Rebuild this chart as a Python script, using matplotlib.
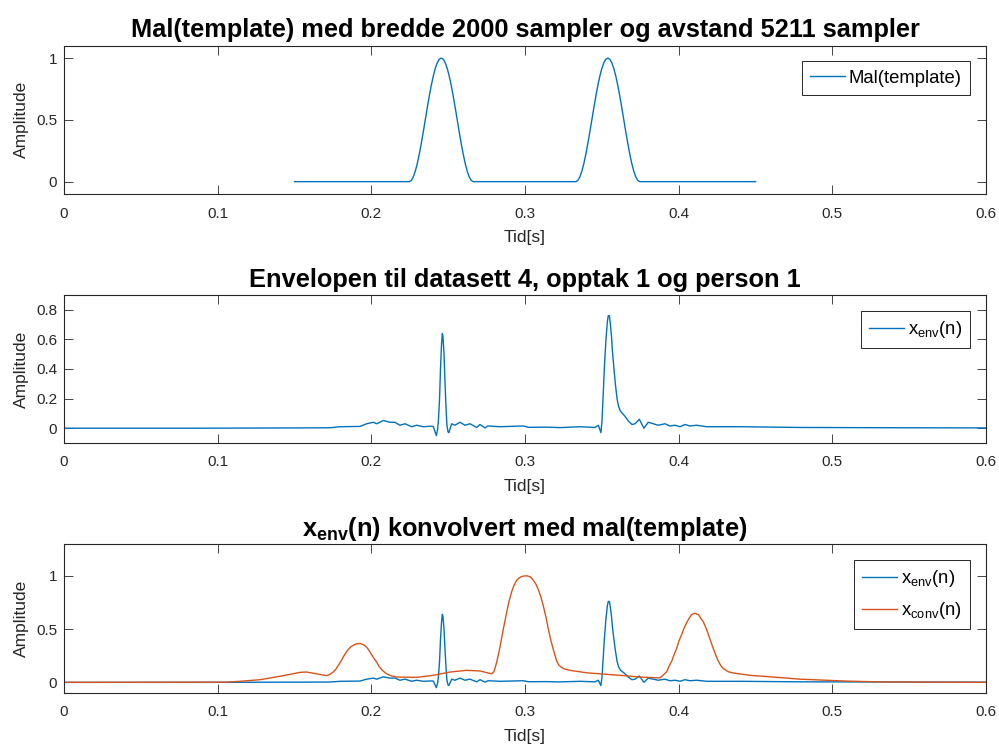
import matplotlib
matplotlib.use("Agg")
import matplotlib.pyplot as plt

plt.rcParams['font.family'] = ['Liberation Sans', 'DejaVu Sans']
plt.rcParams['mathtext.fontset'] = 'custom'
plt.rcParams['mathtext.rm'] = 'Liberation Sans'
plt.rcParams['mathtext.it'] = 'Liberation Sans:italic'
plt.rcParams['mathtext.bf'] = 'Liberation Sans:bold'

# ---------------- data ----------------
tmpl_t = [0.15,
          0.2247, 0.2260, 0.2273, 0.2286, 0.2299, 0.2312, 0.2325, 0.2338, 0.2351, 0.2364, 0.2377,
          0.2390, 0.2403, 0.2416, 0.2429, 0.2442, 0.2455, 0.2468, 0.2481, 0.2494, 0.2507, 0.2520,
          0.2533, 0.2546, 0.2559, 0.2572, 0.2585, 0.2598, 0.2611, 0.2624, 0.2637, 0.2650, 0.2663,
          0.3331, 0.3344, 0.3357, 0.3370, 0.3383, 0.3396, 0.3409, 0.3422, 0.3435, 0.3448, 0.3461,
          0.3474, 0.3487, 0.3500, 0.3513, 0.3526, 0.3539, 0.3552, 0.3565, 0.3578, 0.3591, 0.3604,
          0.3617, 0.3630, 0.3643, 0.3656, 0.3669, 0.3682, 0.3695, 0.3708, 0.3721, 0.3734, 0.3747,
          0.45]
tmpl_y = [0.0,
          0.0, 0.0096, 0.0381, 0.0843, 0.1464, 0.2222, 0.3087, 0.4025, 0.5, 0.5975, 0.6913,
          0.7778, 0.8536, 0.9157, 0.9619, 0.9904, 1.0, 0.9904, 0.9619, 0.9157, 0.8536, 0.7778,
          0.6913, 0.5975, 0.5, 0.4025, 0.3087, 0.2222, 0.1464, 0.0843, 0.0381, 0.0096, 0.0,
          0.0, 0.0096, 0.0381, 0.0843, 0.1464, 0.2222, 0.3087, 0.4025, 0.5, 0.5975, 0.6913,
          0.7778, 0.8536, 0.9157, 0.9619, 0.9904, 1.0, 0.9904, 0.9619, 0.9157, 0.8536, 0.7778,
          0.6913, 0.5975, 0.5, 0.4025, 0.3087, 0.2222, 0.1464, 0.0843, 0.0381, 0.0096, 0.0,
          0.0]

env_t = [0.0, 0.0885, 0.1536, 0.1731, 0.1796, 0.1926, 0.1970, 0.2013, 0.2035, 0.2078,
         0.2121, 0.2154, 0.2186, 0.2219, 0.2263, 0.2295, 0.2338, 0.2382, 0.2403, 0.2423,
         0.2431, 0.2437, 0.2444, 0.2450, 0.2457, 0.2462, 0.2466, 0.2473, 0.2479, 0.2486,
         0.2492, 0.2499, 0.2505, 0.2512, 0.2523, 0.2544, 0.2577, 0.2609, 0.2642, 0.2686,
         0.2707, 0.2740, 0.2759, 0.2837, 0.2989, 0.3021, 0.3141, 0.3228, 0.3358, 0.3455,
         0.3477, 0.3494, 0.3501, 0.3509, 0.3517, 0.3527, 0.3536, 0.3542, 0.3549, 0.3556,
         0.3563, 0.3569, 0.3579, 0.3589, 0.3599, 0.3608, 0.3621, 0.3651, 0.3672, 0.3696,
         0.3716, 0.3744, 0.3774, 0.3802, 0.3835, 0.3867, 0.3911, 0.3943, 0.3976, 0.4009,
         0.4041, 0.4074, 0.4117, 0.4182, 0.4269, 0.4399, 0.4789, 0.5440, 0.6]
env_y = [0.0, 0.0, 0.002, 0.003, 0.010, 0.012, 0.030, 0.040, 0.030, 0.052,
         0.040, 0.040, 0.020, 0.030, 0.010, 0.020, 0.010, 0.013, 0.012, -0.050,
         -0.010, 0.060, 0.200, 0.400, 0.570, 0.640, 0.620, 0.500, 0.320, 0.140,
         0.020, -0.025, -0.030, -0.005, 0.030, 0.020, 0.040, 0.020, 0.030, 0.005,
         0.025, 0.002, 0.015, 0.010, 0.015, 0.006, 0.007, 0.004, 0.010, 0.005,
         0.020, -0.030, 0.050, 0.230, 0.420, 0.600, 0.720, 0.760, 0.760, 0.700,
         0.620, 0.520, 0.400, 0.290, 0.200, 0.150, 0.115, 0.080, 0.050, 0.025,
         0.030, 0.060, 0.000, 0.040, 0.030, 0.020, 0.030, 0.015, 0.020, 0.010,
         0.025, 0.015, 0.020, 0.010, 0.010, 0.010, 0.005, 0.003, 0.002]

conv_t = [0.0, 0.1061, 0.1145, 0.1275, 0.1406, 0.1536, 0.1579, 0.1644, 0.1709, 0.1731,
          0.1752, 0.1770, 0.1785, 0.1803, 0.1818, 0.1835, 0.1850, 0.1868, 0.1883, 0.1905,
          0.1926, 0.1948, 0.1970, 0.1985, 0.2002, 0.2017, 0.2035, 0.2050, 0.2067, 0.2082,
          0.2100, 0.2128, 0.2165, 0.2295, 0.2403, 0.2512, 0.2621, 0.2707, 0.2783, 0.2798,
          0.2816, 0.2837, 0.2859, 0.2881, 0.2896, 0.2913, 0.2928, 0.2946, 0.2961, 0.2978,
          0.2998, 0.3017, 0.3036, 0.3054, 0.3072, 0.3087, 0.3104, 0.3119, 0.3137, 0.3152,
          0.3169, 0.3184, 0.3206, 0.3221, 0.3239, 0.3260, 0.3293, 0.3401, 0.3488, 0.3618,
          0.3748, 0.3878, 0.3901, 0.3922, 0.3937, 0.3955, 0.3970, 0.3987, 0.4002, 0.4020,
          0.4035, 0.4052, 0.4067, 0.4083, 0.4106, 0.4129, 0.4145, 0.4160, 0.4178, 0.4193,
          0.4210, 0.4225, 0.4243, 0.4258, 0.4275, 0.4290, 0.4323, 0.4355, 0.4464, 0.4616,
          0.4789, 0.5093, 0.5310, 0.6]
conv_y = [0.0, 0.002, 0.010, 0.025, 0.057, 0.094, 0.097, 0.080, 0.063, 0.075,
          0.097, 0.125, 0.160, 0.200, 0.240, 0.280, 0.310, 0.335, 0.350, 0.362,
          0.365, 0.355, 0.330, 0.300, 0.260, 0.225, 0.190, 0.150, 0.120, 0.100,
          0.080, 0.062, 0.050, 0.047, 0.066, 0.097, 0.113, 0.107, 0.080, 0.100,
          0.190, 0.330, 0.500, 0.660, 0.760, 0.850, 0.910, 0.960, 0.980, 0.995,
          1.000, 1.000, 0.990, 0.960, 0.920, 0.870, 0.800, 0.720, 0.610, 0.500,
          0.390, 0.310, 0.200, 0.160, 0.140, 0.125, 0.113, 0.090, 0.080, 0.066,
          0.050, 0.042, 0.070, 0.100, 0.150, 0.200, 0.260, 0.320, 0.390, 0.450,
          0.510, 0.560, 0.600, 0.635, 0.650, 0.635, 0.600, 0.570, 0.510, 0.450,
          0.380, 0.320, 0.250, 0.200, 0.155, 0.130, 0.100, 0.088, 0.066, 0.050,
          0.030, 0.012, 0.004, 0.0]

titles = ["Mal(template) med bredde 2000 sampler og avstand 5211 sampler",
          "Envelopen til datasett 4, opptak 1 og person 1",
          r"x$_{\mathbf{env}}$(n) konvolvert med mal(template)"]
xticks = [0, 0.1, 0.2, 0.3, 0.4, 0.5, 0.6]
xticklabels = ["0", "0.1", "0.2", "0.3", "0.4", "0.5", "0.6"]
yticks1 = [0, 0.5, 1]
yticklabels1 = ["0", "0.5", "1"]
yticks2 = [0, 0.2, 0.4, 0.6, 0.8]
yticklabels2 = ["0", "0.2", "0.4", "0.6", "0.8"]
yticks3 = [0, 0.5, 1]
yticklabels3 = ["0", "0.5", "1"]

BLUE = '#0072BD'
ORANGE = '#D95319'
AXC = '#262626'

W, H = 999, 744
fig = plt.figure(figsize=(W / 100, H / 100), dpi=100)

def make_ax(top, bottom):
    return fig.add_axes([64 / W, (H - bottom) / H, 922 / W, (bottom - top) / H])

ax1 = make_ax(45.7, 194)
ax2 = make_ax(295, 443)
ax3 = make_ax(544, 693)

def style(ax, yt, ytl, ylim, title):
    ax.set_xlim(0, 0.6)
    ax.set_ylim(*ylim)
    ax.set_xticks(xticks)
    ax.set_xticklabels(xticklabels)
    ax.set_yticks(yt)
    ax.set_yticklabels(ytl)
    ax.tick_params(direction='in', length=6.5, width=0.6, colors=AXC, labelsize=11,
                   top=True, right=True, pad=5)
    ax.tick_params(axis='x', pad=9)
    for s in ax.spines.values():
        s.set_color(AXC)
        s.set_linewidth(0.8)
    ax.set_xlabel("Tid[s]", fontsize=12.5, color=AXC, labelpad=7)
    ax.set_ylabel("Amplitude", fontsize=12.5, color=AXC, labelpad=5)
    ax.set_title(title, fontsize=18.3, fontweight='bold', pad=6)

def legend(ax):
    leg = ax.legend(loc='upper right', fontsize=13.3, frameon=True, fancybox=False,
                    edgecolor=AXC, framealpha=1, handlelength=1.9, handletextpad=0.2,
                    borderpad=0.45, labelspacing=0.6, borderaxespad=0.85)
    leg.get_frame().set_linewidth(0.7)

ax1.plot(tmpl_t, tmpl_y, color=BLUE, lw=1.0, label="Mal(template)")
style(ax1, yticks1, yticklabels1, (-0.1, 1.1), titles[0])
legend(ax1)

ax2.plot(env_t, env_y, color=BLUE, lw=1.0, label=r"x$_{\mathrm{env}}$(n)")
style(ax2, yticks2, yticklabels2, (-0.1, 0.9), titles[1])
legend(ax2)

ax3.plot(env_t, env_y, color=BLUE, lw=1.0, label=r"x$_{\mathrm{env}}$(n)")
ax3.plot(conv_t, conv_y, color=ORANGE, lw=1.0, label=r"x$_{\mathrm{conv}}$(n)")
style(ax3, yticks3, yticklabels3, (-0.1, 1.3), titles[2])
legend(ax3)

fig.savefig("out.png", dpi=100)
